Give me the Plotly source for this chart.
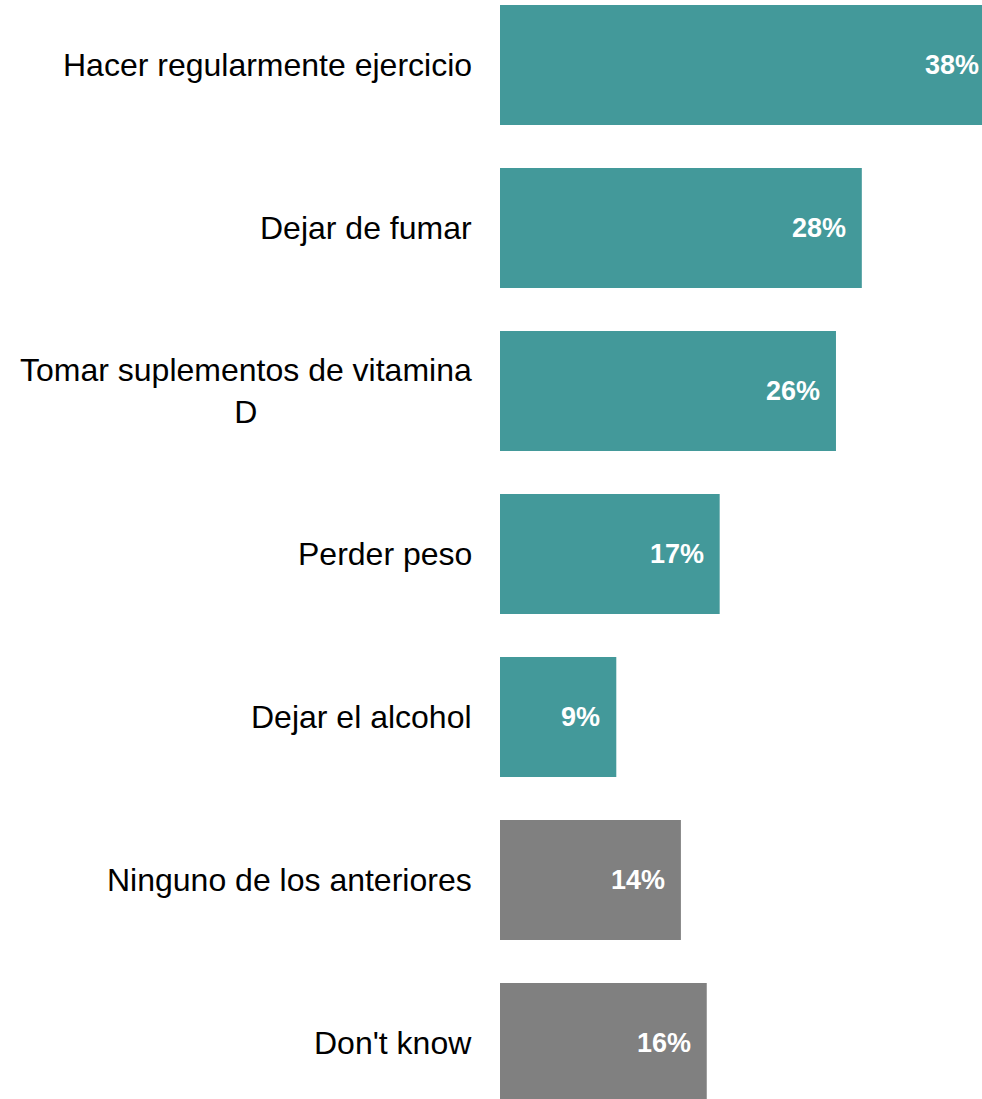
import plotly.graph_objects as go

categories = [
    "Hacer regularmente ejercicio",
    "Dejar de fumar",
    "Tomar suplementos de vitamina<br>D",
    "Perder peso",
    "Dejar el alcohol",
    "Ninguno de los anteriores",
    "Don't know",
]
values = [38, 28, 26, 17, 9, 14, 16]
bar_colors = ["#43999A"] * 5 + ["#808080"] * 2

X_MAX = 37.3
FONT = "Liberation Sans, Arial, sans-serif"

fig = go.Figure(
    go.Bar(
        x=values,
        y=categories,
        orientation="h",
        marker={"color": bar_colors, "line": {"width": 0}},
        hoverinfo="skip",
    )
)

annotations = []
for cat, v in zip(categories, values):
    # category label, centered lines like the original
    annotations.append(
        dict(
            x=0, y=cat, xref="paper", yref="y",
            text=cat, showarrow=False,
            xanchor="right", align="center", xshift=-26,
            font={"family": FONT, "size": 32, "color": "#000000"},
        )
    )
    # value label inside the bar, near its end
    annotations.append(
        dict(
            x=min(v, X_MAX), y=cat, xref="x", yref="y",
            text=f"<b>{v}%</b>", showarrow=False,
            xanchor="right", xshift=-14 if v < X_MAX else -1,
            font={"family": FONT, "size": 27, "color": "#ffffff"},
        )
    )

fig.update_layout(
    width=982,
    height=1099,
    margin={"l": 500, "r": 0, "t": 0, "b": 0},
    plot_bgcolor="white",
    paper_bgcolor="white",
    bargap=0.264,
    showlegend=False,
    annotations=annotations,
    xaxis={"range": [0, X_MAX], "visible": False, "fixedrange": True},
    yaxis={
        "range": [6.344, -0.399],
        "showticklabels": False,
        "showgrid": False,
        "zeroline": False,
        "ticks": "",
    },
)

fig.write_html(
    "out.html",
    config={"displayModeBar": False},
    post_script="document.body.style.margin='0';",
)
